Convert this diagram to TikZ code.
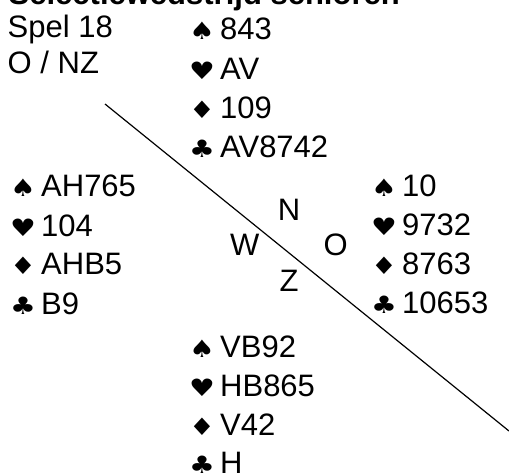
\documentclass[tikz,border=0pt]{standalone}
\usepackage{fontspec}
\setmainfont{Liberation Sans}
\newfontfamily\suitfont{DejaVu Sans}
\usetikzlibrary{positioning}

\newcommand{\kleur}[1]{\makebox[31pt][l]{\scalebox{1.2}[1]{\suitfont\fontsize{24}{24}\selectfont #1}}}

\begin{document}
\begin{tikzpicture}[x=1pt, y=-1pt,
		tekst/.style={anchor=base west, inner sep=0pt, font=\fontsize{31}{36}\selectfont},
		kop/.style={anchor=base west, inner sep=0pt, font=\fontsize{31}{36}\selectfont\bfseries}]

		\useasboundingbox (0,0) rectangle (509,475);

		\node[kop](titel) at (8.5,4){Selectiewedstrijd senioren};
		\node[tekst](spel) at (7.5,37){Spel 18};
		\node[tekst](gever) at (7.5,73){O / NZ};

		% noord
		\node[tekst](n1) at (189,39){\kleur{♠}843};
		\node[tekst](n2) at (189,79){\kleur{♥}AV};
		\node[tekst](n3) at (189,118){\kleur{♦}109};
		\node[tekst](n4) at (189,157){\kleur{♣}AV8742};

		% west
		\node[tekst](w1) at (10,196){\kleur{♠}AH765};
		\node[tekst](w2) at (10,236){\kleur{♥}104};
		\node[tekst](w3) at (10,274){\kleur{♦}AHB5};
		\node[tekst](w4) at (10,314){\kleur{♣}B9};

		% oost
		\node[tekst](o1) at (371,196){\kleur{♠}10};
		\node[tekst](o2) at (371,235){\kleur{♥}9732};
		\node[tekst](o3) at (371,274){\kleur{♦}8763};
		\node[tekst](o4) at (371,313){\kleur{♣}10653};

		% zuid
		\node[tekst](z1) at (189,357){\kleur{♠}VB92};
		\node[tekst](z2) at (189,396){\kleur{♥}HB865};
		\node[tekst](z3) at (189,435){\kleur{♦}V42};
		\node[tekst](z4) at (189,473){\kleur{♣}H};

		% windrichtingen
		\node[tekst](noord) at (277.7,220){N};
		\node[tekst](west) at (230,255){W};
		\node[tekst](oost) at (323.5,255){O};
		\node[tekst](zuid) at (279.5,291.7){Z};

		\coordinate (lijnA) at (105,104);
		\coordinate (lijnB) at (509,431);
		\draw [line width=1.2pt] (lijnA) -- (lijnB);

	\end{tikzpicture}
\end{document}
